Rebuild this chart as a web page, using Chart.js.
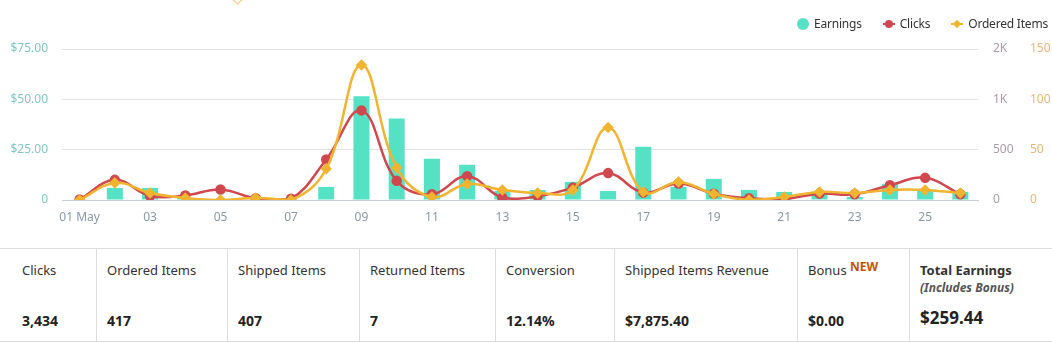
<!DOCTYPE html>
<html>
<head>
<meta charset="utf-8">
<script src="https://cdn.jsdelivr.net/npm/chart.js@4/dist/chart.umd.min.js"></script>
<style>
  html, body { margin: 0; padding: 0; background: #fff; }
  body { width: 1052px; height: 342px; overflow: hidden; position: relative;
         font-family: "Noto Sans", "Open Sans", sans-serif; color: #333; }
  #chartBox { position: absolute; left: 0; top: 0; width: 1052px; height: 227px; }
  #legend { position: absolute; top: 15px; right: 4px; font-size: 12px; color: #333;
            display: flex; align-items: center; letter-spacing: -0.2px; }
  #legend .item { display: flex; align-items: center; margin-left: 21px; }
  #legend .sw { position: relative; width: 12px; height: 12px; margin-right: 5px; }
  #legend .circle { width: 12px; height: 12px; border-radius: 50%; background: #55e2c4; }
  #legend .ln { position: absolute; left: 0; right: 0; top: 5px; height: 2px; }
  #legend .dot { position: absolute; left: 2px; top: 2px; width: 8px; height: 8px; border-radius: 50%; }
  #legend .dia { position: absolute; left: 3px; top: 3px; width: 6px; height: 6px; transform: rotate(45deg); }
  #stray { position: absolute; left: 233px; top: -6px; width: 7px; height: 7px;
           border: 1.5px solid #f5c26b; transform: rotate(45deg); background: #fff; }
  #stats { position: absolute; left: 0; top: 248px; width: 1052px; height: 92px;
           border-top: 1px solid #ddd; border-bottom: 1px solid #ddd; display: flex; }
  #stats .cell { position: relative; border-left: 1px solid #ddd; box-sizing: border-box; height: 92px; }
  #stats .cell:first-child { border-left: none; }
  #stats .lab { position: absolute; top: 12px; font-size: 13px; color: #333; white-space: nowrap; }
  #stats .val { position: absolute; top: 62px; font-size: 14px; font-weight: bold; color: #222; white-space: nowrap; }
  #stats .new { color: #c45500; font-weight: bold; font-size: 12px; position: relative; top: -4px; }
  #stats .sub { position: absolute; top: 30px; font-size: 12px; font-style: italic; font-weight: bold; color: #555; }
</style>
</head>
<body>
<div id="stray"></div>
<div id="chartBox"><canvas id="c"></canvas></div>
<div id="legend"></div>
<div id="stats"></div>
<script>
// ---- data ----
const days = ["01 May","02","03","04","05","06","07","08","09","10","11","12","13",
              "14","15","16","17","18","19","20","21","22","23","24","25","26"];
const earnings = [0, 6, 6, 1, 0.5, 0, 0, 6.5, 51.5, 40.5, 20.5, 17.5, 4.5,
                  5, 9, 4.5, 26.5, 6.5, 10.5, 5, 4, 3.5, 1.5, 8, 5, 4];
const clicks = [5, 200, 40, 45, 105, 17, 13, 403, 890, 190, 57, 237, 23,
                37, 123, 267, 73, 163, 63, 17, 10, 63, 57, 147, 220, 57];
const orderedItems = [0, 17, 7, 2, 0, 2, 0, 31, 134, 32, 3, 16, 10,
                      7, 10, 72, 8, 18, 6, 0, 3, 8, 7, 10, 10, 7];

const statLabels = ["Clicks", "Ordered Items", "Shipped Items", "Returned Items",
                    "Conversion", "Shipped Items Revenue", "Bonus", "Total Earnings"];
const statValues = ["3,434", "417", "407", "7", "12.14%", "$7,875.40", "$0.00", "$259.44"];
const statWidths = [96, 131, 132, 136, 119, 183, 112, 143];

const TEAL = "#55e2c4", RED = "#d0484f", ORANGE = "#f0b430";

// ---- legend ----
const legend = document.getElementById("legend");
legend.innerHTML =
  '<div class="item"><div class="sw"><div class="circle"></div></div>Earnings</div>' +
  '<div class="item"><div class="sw"><div class="ln" style="background:' + RED + '"></div><div class="dot" style="background:' + RED + '"></div></div>Clicks</div>' +
  '<div class="item"><div class="sw"><div class="ln" style="background:' + ORANGE + '"></div><div class="dia" style="background:' + ORANGE + '"></div></div>Ordered Items</div>';

// ---- stats table ----
const stats = document.getElementById("stats");
statLabels.forEach((lab, i) => {
  const cell = document.createElement("div");
  cell.className = "cell";
  cell.style.width = statWidths[i] + "px";
  const pad = i === 0 ? 22 : 10;
  let labHtml = lab;
  if (lab === "Bonus") labHtml = 'Bonus <span class="new">NEW</span>';
  let extra = "";
  if (lab === "Total Earnings") {
    labHtml = "<b>" + lab + "</b>";
    extra = '<div class="sub" style="left:' + pad + 'px">(Includes Bonus)</div>';
  }
  const valTop = lab === "Total Earnings" ? "top:57px;font-size:17px;" : "";
  cell.innerHTML = '<div class="lab" style="left:' + pad + 'px">' + labHtml + '</div>' + extra +
    '<div class="val" style="left:' + pad + 'px;' + valTop + '">' + statValues[i] + '</div>';
  stats.appendChild(cell);
});

// ---- chart ----
const tickFont = { family: "Noto Sans", size: 12 };
new Chart(document.getElementById("c"), {
  data: {
    labels: days,
    datasets: [
      { type: "line", label: "Ordered Items", data: orderedItems, yAxisID: "yOrd", order: 1,
        borderColor: ORANGE, backgroundColor: ORANGE, borderWidth: 2.5, tension: 0.4,
        pointStyle: "rectRot", pointRadius: 4, pointHoverRadius: 4 },
      { type: "line", label: "Clicks", data: clicks, yAxisID: "yClk", order: 2,
        borderColor: RED, backgroundColor: RED, borderWidth: 2.5, tension: 0.4,
        pointStyle: "circle", pointRadius: 4, pointHoverRadius: 4 },
      { type: "bar", label: "Earnings", data: earnings, yAxisID: "yEarn", order: 3,
        backgroundColor: TEAL, barPercentage: 0.455, categoryPercentage: 1 }
    ]
  },
  options: {
    responsive: true,
    maintainAspectRatio: false,
    animation: false,
    layout: { padding: { top: 49, left: 0, right: 0, bottom: 0 } },
    plugins: { legend: { display: false }, tooltip: { enabled: false } },
    scales: {
      x: {
        offset: true,
        grid: { display: false },
        border: { color: "#c9ced6" },
        ticks: {
          autoSkip: false, maxRotation: 0, color: "#8797a8", font: tickFont, padding: 2,
          callback: function (v, i) { return i % 2 === 0 ? days[i] : ""; }
        },
        afterFit: s => { s.height = 27; }
      },
      yEarn: {
        position: "left", min: 0, max: 75,
        border: { display: false },
        grid: { color: "#e2e2e2", drawTicks: false },
        ticks: { stepSize: 25, color: "#82c6c4", font: tickFont, padding: 14,
                 callback: v => v === 0 ? "0" : "$" + v.toFixed(2) },
        afterFit: s => { s.width = 62; }
      },
      yClk: {
        position: "right", min: 0, max: 1500,
        border: { display: false },
        grid: { display: false, drawTicks: false },
        ticks: { stepSize: 500, color: "#ab9aa6", font: tickFont, padding: 15,
                 callback: v => v >= 1000 ? Math.round(v / 1000) + "K" : String(v) },
        afterFit: s => { s.width = 44; }
      },
      yOrd: {
        position: "right", min: 0, max: 150,
        border: { display: false },
        grid: { display: false, drawTicks: false },
        ticks: { stepSize: 50, color: "#e6b57c", font: tickFont, padding: 8 },
        afterFit: s => { s.width = 30; }
      }
    }
  }
});
</script>
</body>
</html>
